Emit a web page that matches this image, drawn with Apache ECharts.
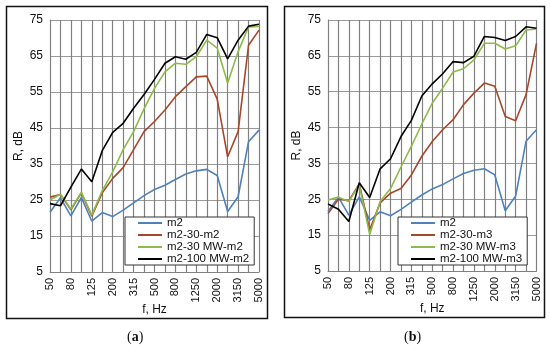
<!DOCTYPE html>
<html>
<head>
<meta charset="utf-8">
<script src="https://cdn.jsdelivr.net/npm/echarts@6/dist/echarts.min.js"></script>
<style>html,body{margin:0;padding:0;background:#fff}#c{width:550px;height:351px}</style>
</head>
<body>
<div id="c"></div>
<script>
const freqs = ['50','63','80','100','125','160','200','250','315','400','500','630','800','1000','1250','1600','2000','2500','3150','4000','5000'];
const yTicks = [5, 15, 25, 35, 45, 55, 65, 75];

const m2 = [21.6, 25.6, 20.6, 25.7, 19.1, 21.5, 20.4, 22.2, 24.2, 26.2, 27.9, 29.1, 30.7, 32.2, 33.1, 33.5, 31.8, 21.8, 25.9, 41.2, 44.4];

const a_m2_30 = [25.8, 26.5, 22.3, 27.0, 20.5, 27.0, 31.0, 34.0, 39.0, 44.0, 46.8, 50.0, 53.7, 56.5, 59.2, 59.4, 53.0, 37.0, 44.0, 68.0, 72.2];
const a_m2_30mw = [25.0, 26.6, 22.5, 27.1, 20.8, 27.6, 32.8, 39.0, 44.0, 50.3, 56.0, 60.6, 63.0, 62.7, 64.8, 69.4, 67.2, 57.5, 66.2, 73.1, 73.2];
const a_m2_100mw = [24.0, 23.4, 28.6, 33.6, 30.1, 38.7, 43.8, 46.3, 50.5, 54.3, 58.5, 63.0, 64.8, 64.1, 66.0, 71.0, 70.1, 64.2, 69.4, 73.3, 73.8];

const b_m2_30 = [21.0, 25.0, 24.6, 29.3, 16.5, 24.0, 26.7, 28.0, 31.8, 37.0, 41.1, 44.4, 47.2, 51.4, 54.6, 57.4, 56.5, 48.1, 46.9, 54.2, 68.5];
const b_m2_30mw = [24.8, 25.6, 24.4, 29.0, 15.2, 24.4, 28.0, 34.0, 39.8, 46.0, 51.8, 56.0, 60.5, 61.4, 63.9, 68.5, 68.5, 66.9, 67.8, 72.2, 72.5];
const b_m2_100mw = [23.7, 22.2, 18.8, 29.6, 25.5, 33.5, 36.3, 42.5, 47.0, 53.8, 57.2, 60.0, 63.4, 63.1, 64.9, 70.4, 70.1, 69.3, 70.4, 73.1, 72.7];

const namesA = ['m2', 'm2-30-m2', 'm2-30 MW-m2', 'm2-100 MW-m2'];
const namesB = ['m2 ', 'm2-30-m3', 'm2-30 MW-m3', 'm2-100 MW-m3'];
const colors = ['#4F81BD', '#A8462A', '#8DBB4A', '#000000'];

const FONT = 'Liberation Sans, Arial, sans-serif';

function xAx(gi) {
  return {
    type: 'category', gridIndex: gi, data: freqs, boundaryGap: false,
    name: 'f, Hz', nameLocation: 'middle', nameGap: 32, nameMoveOverlap: false,
    nameTextStyle: {fontFamily: FONT, fontSize: 12, color: '#111'},
    axisLine: {show: true, lineStyle: {color: '#808080', width: 1}},
    axisTick: {show: false},
    axisLabel: {interval: 1, rotate: 90, fontFamily: FONT, fontSize: 11, color: '#111', margin: 6},
    splitLine: {show: true, interval: 0, lineStyle: {color: '#808080', width: 1.2}}
  };
}
function yAx(gi) {
  return {
    type: 'value', gridIndex: gi, min: 5, max: 75, interval: 10,
    name: 'R, dB', nameLocation: 'middle', nameGap: 25, nameRotate: 90,
    nameTextStyle: {fontFamily: FONT, fontSize: 12, color: '#111'},
    axisLine: {show: true, lineStyle: {color: '#808080', width: 1}},
    axisTick: {show: false},
    axisLabel: {fontFamily: FONT, fontSize: 12, color: '#111', margin: 7},
    splitLine: {show: true, lineStyle: {color: '#9a9a9a', width: 1}}
  };
}
function ser(name, data, ci, gi) {
  return {
    type: 'line', name: name, data: data, xAxisIndex: gi, yAxisIndex: gi,
    symbol: 'none', lineStyle: {color: colors[ci], width: 1.6}, itemStyle: {color: colors[ci]},
    z: 2 + ci, animation: false
  };
}
function leg(names, left) {
  return {
    data: names, orient: 'vertical', left: left, top: 217,
    icon: 'rect', itemWidth: 24, itemHeight: 2, itemGap: 0,
    backgroundColor: '#fff', borderColor: '#333', borderWidth: 1,
    padding: [0, 5, 0, 13],
    textStyle: {fontFamily: FONT, fontSize: 11.5, color: '#111', lineHeight: 12},
    selectedMode: false
  };
}

const chart = echarts.init(document.getElementById('c'), null, {renderer: 'canvas'});
chart.setOption({
  backgroundColor: '#fff',
  animation: false,
  grid: [
    {left: 50, top: 20, width: 209, height: 252},
    {left: 328, top: 20, width: 208.5, height: 251}
  ],
  xAxis: [xAx(0), xAx(1)],
  yAxis: [yAx(0), yAx(1)],
  legend: [leg(namesA, 125), leg(namesB, 398)],
  series: [
    ser(namesA[0], m2, 0, 0), ser(namesA[1], a_m2_30, 1, 0), ser(namesA[2], a_m2_30mw, 2, 0), ser(namesA[3], a_m2_100mw, 3, 0),
    ser(namesB[0], m2, 0, 1), ser(namesB[1], b_m2_30, 1, 1), ser(namesB[2], b_m2_30mw, 2, 1), ser(namesB[3], b_m2_100mw, 3, 1)
  ],
  graphic: [
    {type: 'rect', shape: {x: 6.5, y: 6.5, width: 261, height: 312}, style: {fill: 'none', stroke: '#111', lineWidth: 1.5}, z: 0, silent: true},
    {type: 'rect', shape: {x: 284.5, y: 6.5, width: 260, height: 311}, style: {fill: 'none', stroke: '#111', lineWidth: 1.5}, z: 0, silent: true},
    {type: 'text', left: 127, top: 330, style: {text: '({b|a})', rich: {b: {fontWeight: 'bold', fontFamily: 'Liberation Serif, Times New Roman, serif', fontSize: 14}}, fontFamily: 'Liberation Serif, Times New Roman, serif', fontSize: 14, fill: '#111'}},
    {type: 'text', left: 404, top: 330, style: {text: '({b|b})', rich: {b: {fontWeight: 'bold', fontFamily: 'Liberation Serif, Times New Roman, serif', fontSize: 14}}, fontFamily: 'Liberation Serif, Times New Roman, serif', fontSize: 14, fill: '#111'}}
  ]
});
</script>
</body>
</html>
